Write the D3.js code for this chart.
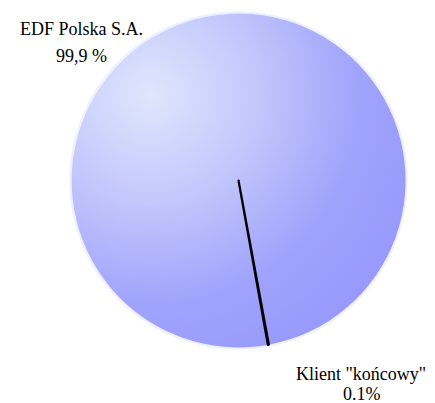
<!DOCTYPE html>
<html><head><meta charset="utf-8">
<script src="https://cdn.jsdelivr.net/npm/d3@7"></script>
<style>body{margin:0;background:#fff}svg{display:block}</style>
</head><body>
<svg id="c" width="435" height="403"></svg>
<script>
const categories = ["EDF Polska S.A.", "Klient \"końcowy\""];
const values = [99.9, 0.1];
const valueLabels = ["99,9 %", "0.1%"];

const svg = d3.select("#c");
const cx = 238.5, cy = 180.5, r = 167;
const defs = svg.append("defs");
const grad = defs.append("radialGradient").attr("id", "g")
  .attr("gradientUnits", "userSpaceOnUse")
  .attr("cx", 150).attr("cy", 95).attr("r", 300)
  .attr("fx", 150).attr("fy", 95)
  .attr("gradientTransform", `translate(${-cx},${-cy})`);
grad.append("stop").attr("offset", "0%").attr("stop-color", "#e0e6fc");
grad.append("stop").attr("offset", "35%").attr("stop-color", "#c3c8fc");
grad.append("stop").attr("offset", "70%").attr("stop-color", "#a0a3fb");
grad.append("stop").attr("offset", "100%").attr("stop-color", "#9798fb");

const data = categories.map((c, i) => ({ name: c, value: values[i] }));
const lineAngle = Math.atan2(30, -165);
const sliceAngle = 2 * Math.PI * values[1] / d3.sum(values);
const start = lineAngle + sliceAngle / 2 - 2 * Math.PI;
const pie = d3.pie().value(d => d.value).sort(null)
  .startAngle(start).endAngle(start + 2 * Math.PI);
const arc = d3.arc().innerRadius(0).outerRadius(r);
const g = svg.append("g").attr("transform", `translate(${cx},${cy})`);

g.append("circle").attr("r", r + 1).attr("fill", "none").attr("stroke", "#eef1fd").attr("stroke-width", 2.5);

g.selectAll("path").data(pie(data)).join("path")
  .attr("d", arc)
  .attr("fill", (d, i) => i === 0 ? "url(#g)" : "#000")
  .attr("stroke", (d, i) => i === 0 ? "none" : "#000")
  .attr("stroke-width", (d, i) => i === 0 ? 0 : 2.2)
  .attr("stroke-linejoin", "round");

function label(x, y, t) {
  svg.append("text").attr("x", x).attr("y", y)
    .attr("font-family", "Liberation Serif").attr("font-size", 18)
    .text(t);
}
label(20, 35, categories[0]);
label(56, 62, valueLabels[0]);
label(296, 380, categories[1]);
label(343, 400, valueLabels[1]);
</script>
</body></html>
